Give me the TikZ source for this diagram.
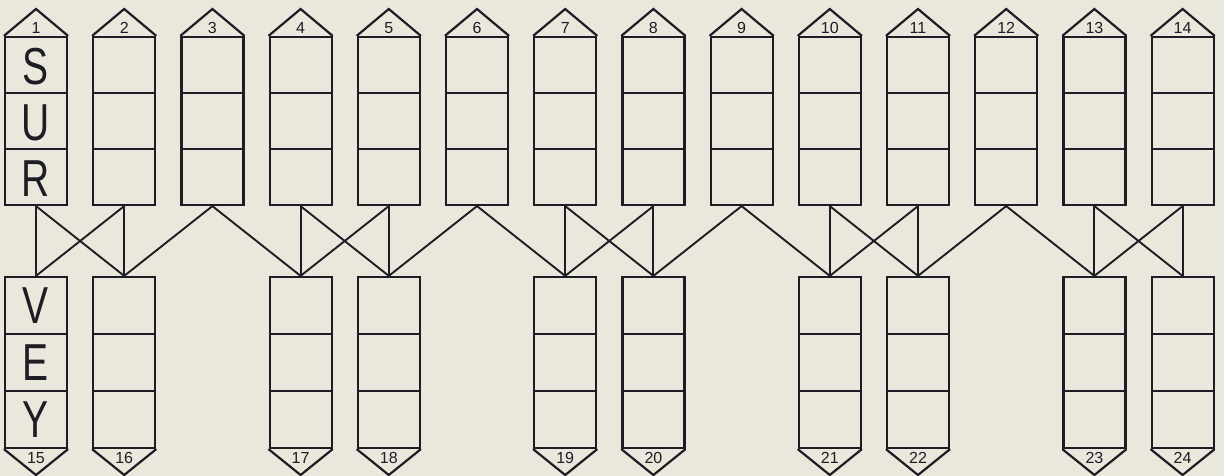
\documentclass[tikz,border=0pt]{standalone}
\usepackage{fontspec}
\setmainfont{Liberation Sans}
\definecolor{bgc}{RGB}{234,232,220}
\definecolor{ink}{RGB}{30,28,36}
\begin{document}
\begin{tikzpicture}[x=1pt,y=-1pt,
  boxline/.style={draw=ink,line width=2.2pt},
  topbox/.style={boxline,minimum width=62pt,minimum height=168pt,inner sep=0pt},
  botbox/.style={boxline,minimum width=62pt,minimum height=171pt,inner sep=0pt},
  num/.style={text=ink,font=\fontsize{16}{16}\selectfont,inner sep=0pt},
  letter/.style={text=ink,font=\fontsize{52}{52}\selectfont,inner sep=0pt,xscale=0.75},
  link/.style={draw=ink,line width=1.9pt}]
\fill[bgc] (0,0) rectangle (1224,476);
\useasboundingbox (0,0) rectangle (1224,476);
% top columns
\foreach \i in {1,...,14}{
  \pgfmathsetmacro\cx{36+(\i-1)*88.2}
  \node[topbox] (t\i) at (\cx,121) {};
  \draw[boxline] (\cx-31,93) -- (\cx+31,93);
  \draw[boxline] (\cx-31,149) -- (\cx+31,149);
  \draw[boxline,line join=miter] (t\i.north west) -- (\cx,9) -- (t\i.north east);
  \node[num] (n\i) at (\cx,28) {\i};
}
% bottom columns
\foreach \c/\n in {1/15,2/16,4/17,5/18,7/19,8/20,10/21,11/22,13/23,14/24}{
  \pgfmathsetmacro\cx{36+(\c-1)*88.2}
  \node[botbox] (b\n) at (\cx,362.5) {};
  \draw[boxline] (\cx-31,334) -- (\cx+31,334);
  \draw[boxline] (\cx-31,391) -- (\cx+31,391);
  \draw[boxline,line join=miter] (b\n.south west) -- (\cx,475) -- (b\n.south east);
  \node[num] (n\n) at (\cx,458) {\n};
}
% letters
\node[letter] (lS) at (36,67) {S};
\node[letter] (lU) at (36,123) {U};
\node[letter] (lR) at (36,179) {R};
\node[letter] (lV) at (36,306) {V};
\node[letter] (lE) at (36,363) {E};
\node[letter] (lY) at (36,420) {Y};
% connectors
\foreach \a/\b in {1/15,1/16,2/15,2/16,3/16,3/17,4/17,4/18,5/17,5/18,6/18,6/19,
  7/19,7/20,8/19,8/20,9/20,9/21,10/21,10/22,11/21,11/22,12/22,12/23,13/23,13/24,14/23,14/24}{
  \draw[link] (t\a.south) -- (b\b.north);
}
\end{tikzpicture}
\end{document}
